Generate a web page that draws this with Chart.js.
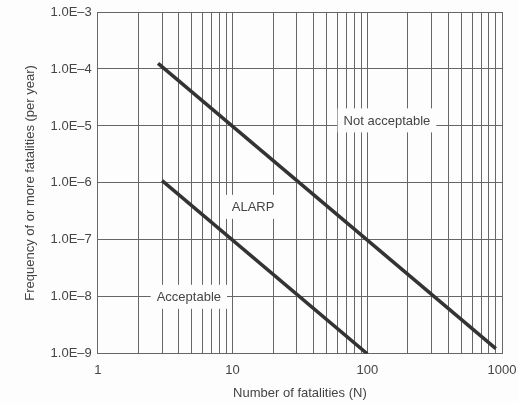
<!DOCTYPE html>
<html><head><meta charset="utf-8">
<script src="https://cdn.jsdelivr.net/npm/chart.js@4/dist/chart.umd.min.js"></script>
<style>html,body{margin:0;padding:0;background:#fdfdfd}#wrap{width:519px;height:403px}</style>
</head><body><div id="wrap"><canvas id="c"></canvas></div>
<script>
// ---- data ----
const fatalityDecades = [1, 10, 100, 1000];
const freqDecades = [1e-9, 1e-8, 1e-7, 1e-6, 1e-5, 1e-4, 1e-3];
const freqTickLabels = ['1.0E–9', '1.0E–8', '1.0E–7', '1.0E–6', '1.0E–5', '1.0E–4', '1.0E–3'];
const upperN = [2.8, 900];
const upperF = [1.25e-4, 1.23e-9];
const lowerN = [3, 100];
const lowerF = [1.1e-6, 1e-9];
const regionNames = ['Not acceptable', 'ALARP', 'Acceptable'];
const regionN = [140, 14.2, 4.74];
const regionF = [1.25e-5, 3.8e-7, 1e-8];

const FONT = "'Liberation Sans', Arial, sans-serif";
const TXT = '#444';
const GRID = '#666';

const toPts = (xs, ys) => xs.map((x, i) => ({x: x, y: ys[i]}));

const regionLabels = {
  id: 'regionLabels',
  beforeDatasetsDraw(chart) {
    const {ctx, scales} = chart;
    ctx.save();
    ctx.font = '13px ' + FONT;
    ctx.textAlign = 'center';
    ctx.textBaseline = 'middle';
    regionNames.forEach((name, i) => {
      const px = scales.x.getPixelForValue(regionN[i]);
      const py = scales.y.getPixelForValue(regionF[i]);
      const w = ctx.measureText(name).width + 12;
      const h = 24;
      ctx.fillStyle = '#fdfdfd';
      ctx.fillRect(px - w / 2, py - h / 2, w, h);
      ctx.fillStyle = TXT;
      ctx.fillText(name, px, py + 1);
    });
    ctx.restore();
  }
};

new Chart(document.getElementById('c'), {
  type: 'line',
  data: {
    datasets: [
      {data: toPts(upperN, upperF), borderColor: '#333', borderWidth: 3.5, pointRadius: 0, fill: false},
      {data: toPts(lowerN, lowerF), borderColor: '#333', borderWidth: 3.5, pointRadius: 0, fill: false}
    ]
  },
  options: {
    responsive: true,
    maintainAspectRatio: false,
    animation: false,
    layout: {padding: {left: 23, right: 0, top: 0, bottom: 0}},
    plugins: {legend: {display: false}, tooltip: {enabled: false}},
    scales: {
      x: {
        type: 'logarithmic', min: 1, max: 1000,
        afterBuildTicks: (s) => {
          const t = [];
          fatalityDecades.forEach((d, k) => {
            if (k < fatalityDecades.length - 1) { for (let m = 1; m < 10; m++) t.push({value: d * m}); }
            else t.push({value: d});
          });
          s.ticks = t;
        },
        afterFit: (s) => { s.paddingRight = 17; s.paddingLeft = 0; },
        ticks: {
          autoSkip: false, maxRotation: 0, padding: 9, color: TXT,
          font: {size: 13, family: FONT},
          callback: (v) => fatalityDecades.includes(v) ? String(v) : ''
        },
        grid: {color: GRID, lineWidth: 1, drawTicks: false},
        border: {color: GRID, width: 1},
        title: {display: true, text: 'Number of fatalities (N)', color: TXT, font: {size: 13, family: FONT}, padding: {top: -2, bottom: 2}}
      },
      y: {
        type: 'logarithmic', min: 1e-9, max: 1e-3,
        afterBuildTicks: (s) => { s.ticks = freqDecades.map(v => ({value: v})); },
        afterFit: (s) => { s.paddingTop = 12; s.paddingBottom = 0; },
        ticks: {
          padding: 6, color: TXT, font: {size: 13, family: FONT},
          callback: (v) => { const i = freqDecades.findIndex(d => Math.abs(d - v) / d < 1e-6); return i >= 0 ? freqTickLabels[i] : ''; }
        },
        grid: {color: GRID, lineWidth: 1, drawTicks: false},
        border: {color: GRID, width: 1},
        title: {display: true, text: 'Frequency of or more fatalities (per year)', color: TXT, font: {size: 13, family: FONT}, padding: {top: 0, bottom: 6}}
      }
    }
  },
  plugins: [regionLabels]
});
</script>
</body></html>
